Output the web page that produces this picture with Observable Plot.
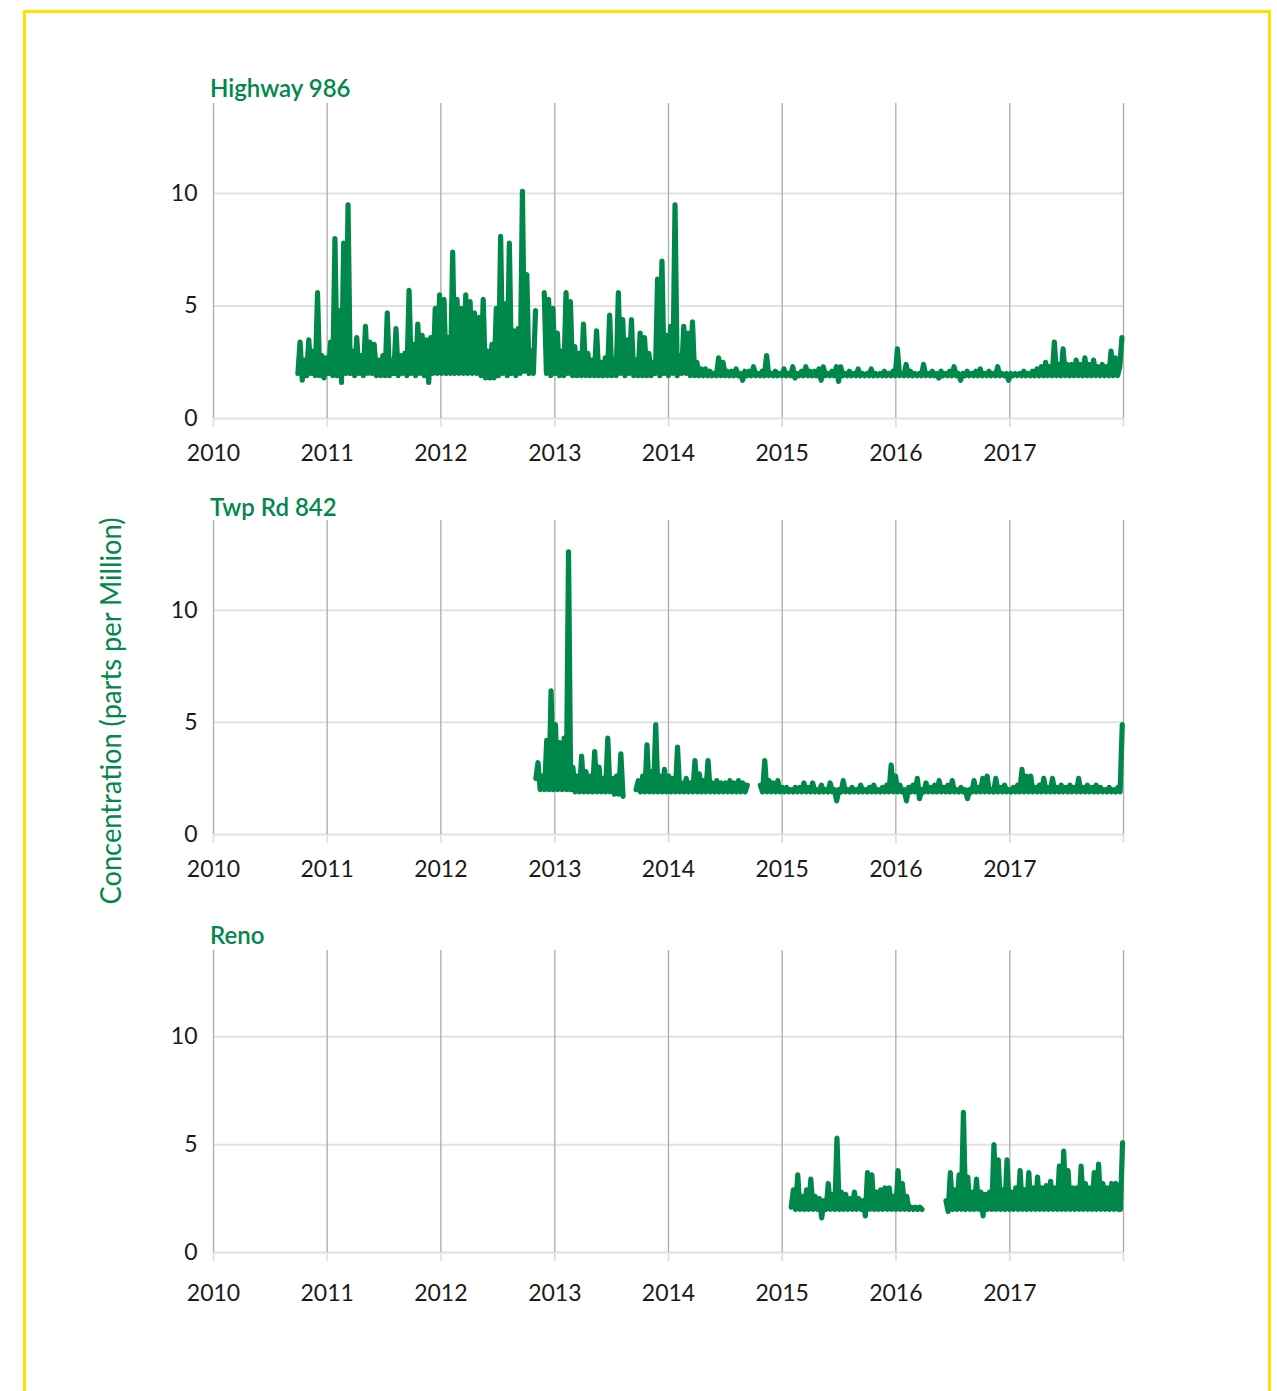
<!DOCTYPE html>
<html>
<head>
<meta charset="utf-8">
<script src="https://cdn.jsdelivr.net/npm/d3@7"></script>
<script src="https://cdn.jsdelivr.net/npm/@observablehq/plot@0.6"></script>
<style>
  html, body { margin: 0; padding: 0; background: #fff; overflow: hidden; }
  #page { position: relative; width: 1277px; height: 1391px; overflow: hidden; background: #fff; }
  #frame { position: absolute; left: 23px; top: 10px; width: 1242px; height: 1430px; border: 3px solid #ffdf00; }
  .panel { position: absolute; left: 0; }
  #overlay { position: absolute; left: 0; top: 0; }
</style>
</head>
<body>
<div id="page"><div id="frame"></div></div>
<script>
// ---------------- data ----------------
const stationNames = ["Highway 986", "Twp Rd 842", "Reno"];
const yAxisTitle = "Concentration (parts per Million)";
const tickYears = [2010, 2011, 2012, 2013, 2014, 2015, 2016, 2017, 2018];
const tickYearLabels = ["2010", "2011", "2012", "2013", "2014", "2015", "2016", "2017", ""];
const yTickValues = [0, 5, 10];
const yTickLabels = ["0", "5", "10"];
const sampleStepDays = 7;

// Highway 986: weekly samples from 2010-09-29 (null = no data)
const highwayStart = "2010-09-29";
const highwayValues = [
  2.0, 3.4, 1.7, 2.6, 1.9, 3.5, 2.0, 3.0, 1.9, 5.6,
  1.9, 2.8, 1.8, 2.7, 2.0, 3.4, 1.9, 8.0, 1.9, 4.8,
  1.6, 7.8, 2.0, 9.5, 2.0, 3.0, 1.9, 3.6, 2.0, 2.8,
  1.9, 4.1, 2.0, 3.4, 2.0, 3.3, 1.9, 2.6, 1.9, 2.8,
  1.9, 4.7, 1.9, 2.6, 2.0, 4.0, 1.9, 2.8, 2.0, 2.9,
  1.9, 5.7, 2.0, 3.3, 1.9, 4.2, 2.0, 3.7, 1.9, 3.5,
  1.6, 3.6, 2.0, 4.9, 2.0, 5.5, 2.0, 5.3, 2.0, 3.6,
  2.0, 7.4, 2.0, 5.3, 2.0, 4.9, 2.0, 5.5, 2.0, 5.2,
  2.0, 4.7, 2.0, 4.5, 1.9, 5.3, 1.8, 3.0, 1.8, 3.3,
  1.8, 4.9, 1.9, 8.1, 2.0, 5.1, 1.9, 7.8, 2.0, 3.9,
  1.9, 4.0, 2.0, 10.1, 2.1, 6.4, 2.0, 3.0, 2.0, 4.8,
  null, null, null, 5.6, 2.0, 5.3, 1.9, 4.9, 2.0, 3.8,
  1.9, 3.0, 1.9, 5.6, 2.0, 5.2, 1.9, 3.2, 1.9, 2.9,
  1.9, 4.2, 1.9, 2.9, 1.9, 2.6, 1.9, 3.9, 1.9, 2.5,
  1.9, 2.7, 1.9, 4.6, 1.9, 2.6, 1.9, 5.6, 2.0, 4.4,
  1.9, 3.5, 2.0, 4.4, 1.9, 2.6, 1.9, 3.8, 1.9, 3.6,
  1.9, 2.9, 1.9, 2.5, 2.0, 6.2, 1.9, 7.0, 2.0, 3.7,
  1.9, 4.1, 2.0, 9.5, 1.9, 2.8, 2.0, 4.1, 2.0, 3.8,
  1.9, 4.3, 1.9, 2.5, 1.9, 2.2, 1.9, 2.2, 1.9, 2.1,
  1.9, 2.0, 1.9, 2.7, 1.9, 2.5, 1.9, 2.1, 1.9, 2.1,
  1.9, 2.2, 1.9, 2.0, 1.7, 2.1, 1.9, 2.1, 1.9, 2.3,
  1.9, 2.0, 1.9, 2.1, 1.9, 2.8, 1.9, 2.0, 1.9, 2.1,
  1.9, 2.0, 1.9, 2.2, 1.9, 2.0, 1.9, 2.3, 1.8, 2.0,
  1.9, 2.1, 1.9, 2.3, 1.9, 2.1, 1.9, 2.1, 1.9, 2.2,
  1.7, 2.3, 1.9, 2.0, 1.9, 2.1, 1.9, 2.3, 1.65, 2.3,
  1.9, 2.0, 1.9, 2.1, 1.9, 2.0, 1.9, 2.2, 1.9, 2.0,
  1.9, 2.0, 1.9, 2.2, 1.9, 2.0, 1.9, 2.0, 1.9, 2.1,
  1.9, 2.0, 1.9, 2.1, 1.9, 3.1, 1.9, 2.0, 1.9, 2.4,
  1.9, 2.1, 1.9, 2.0, 1.9, 2.0, 1.9, 2.4, 1.9, 2.0,
  1.9, 2.1, 1.9, 2.0, 1.8, 2.1, 1.9, 2.0, 1.9, 2.1,
  1.9, 2.3, 1.9, 2.0, 1.7, 2.0, 1.9, 2.1, 1.9, 2.0,
  1.9, 2.1, 1.9, 2.2, 1.9, 2.0, 1.9, 2.1, 1.9, 2.0,
  1.9, 2.3, 1.9, 2.0, 1.9, 2.0, 1.7, 2.0, 1.9, 2.0,
  1.9, 2.0, 1.9, 2.1, 1.9, 2.0, 1.9, 2.1, 1.9, 2.2,
  1.9, 2.3, 1.9, 2.5, 1.9, 2.3, 1.9, 3.4, 1.9, 2.4,
  1.9, 3.1, 1.9, 2.4, 1.9, 2.4, 1.9, 2.6, 1.9, 2.4,
  1.9, 2.7, 1.9, 2.4, 1.9, 2.6, 1.9, 2.3, 1.9, 2.4,
  1.9, 2.3, 1.9, 3.0, 1.9, 2.7, 1.9, 2.3, 3.6
];

// Twp Rd 842: weekly samples from 2012-11-01
const twpStart = "2012-11-01";
const twpValues = [
  2.5, 3.2, 2.0, 2.6, 2.0, 4.2, 2.0, 6.4, 2.0, 4.9,
  2.0, 4.1, 2.0, 4.3, 2.0, 12.6, 2.0, 3.0, 1.9, 2.6,
  1.9, 3.5, 1.9, 2.8, 1.9, 2.6, 1.9, 3.7, 1.9, 3.0,
  1.9, 2.5, 1.9, 4.3, 1.9, 2.5, 1.8, 2.6, 1.8, 3.6,
  1.7, null, null, null, null, null, 2.0, 2.4, 1.9, 2.6,
  1.9, 4.0, 1.9, 2.8, 1.9, 4.9, 1.9, 2.6, 1.9, 2.9,
  1.9, 2.6, 1.9, 2.5, 1.9, 3.9, 1.9, 2.3, 1.9, 2.5,
  1.9, 2.3, 1.9, 3.3, 1.9, 2.7, 1.9, 2.4, 1.9, 3.3,
  1.9, 2.3, 1.9, 2.4, 1.9, 2.3, 1.9, 2.3, 1.9, 2.4,
  1.9, 2.3, 1.9, 2.4, 1.9, 2.3, 1.9, 2.2, null, null,
  null, null, null, 2.2, 1.9, 3.3, 1.9, 2.4, 1.9, 2.3,
  1.9, 2.4, 1.9, 2.1, 1.9, 2.1, 1.9, 2.0, 1.9, 2.1,
  1.9, 2.1, 1.9, 2.3, 1.9, 2.1, 1.9, 2.3, 1.9, 2.0,
  1.9, 2.2, 1.9, 2.0, 1.9, 2.3, 1.9, 2.0, 1.5, 2.0,
  1.9, 2.4, 1.9, 2.0, 1.9, 2.1, 1.9, 2.0, 1.9, 2.2,
  1.9, 2.0, 1.9, 2.1, 1.9, 2.2, 1.9, 2.0, 1.9, 2.1,
  1.9, 2.2, 1.9, 3.1, 1.9, 2.6, 1.9, 2.2, 1.9, 2.0,
  1.5, 2.1, 1.9, 2.2, 1.9, 2.5, 1.6, 2.0, 1.9, 2.3,
  1.9, 2.1, 1.9, 2.2, 1.9, 2.4, 1.9, 2.1, 1.9, 2.2,
  1.9, 2.4, 1.9, 2.0, 1.9, 2.1, 1.9, 2.0, 1.6, 2.0,
  1.9, 2.4, 1.9, 2.1, 1.9, 2.5, 1.9, 2.6, 1.9, 2.0,
  1.9, 2.5, 1.9, 2.1, 1.9, 2.2, 1.9, 2.0, 1.9, 2.1,
  1.9, 2.2, 1.9, 2.9, 1.9, 2.6, 1.9, 2.6, 1.9, 2.1,
  1.9, 2.2, 1.9, 2.5, 1.9, 2.1, 1.9, 2.5, 1.9, 2.1,
  1.9, 2.2, 1.9, 2.1, 1.9, 2.2, 1.9, 2.1, 1.9, 2.5,
  1.9, 2.1, 1.9, 2.2, 1.9, 2.1, 1.9, 2.2, 1.9, 2.1,
  1.9, 2.0, 1.9, 2.1, 1.9, 2.0, 1.9, 2.1, 1.9, 4.9
];

// Reno: weekly samples from 2015-01-30
const renoStart = "2015-01-30";
const renoValues = [
  2.1, 2.9, 2.0, 3.6, 2.0, 2.6, 2.0, 2.9, 2.0, 3.4,
  2.0, 2.6, 2.0, 2.5, 1.6, 2.4, 2.0, 3.2, 2.0, 2.7,
  2.0, 5.3, 2.0, 2.8, 2.0, 2.7, 2.0, 2.5, 2.0, 2.8,
  2.0, 2.5, 2.0, 2.4, 1.7, 3.7, 2.0, 3.6, 2.0, 2.8,
  2.0, 2.9, 2.0, 3.0, 2.0, 3.0, 2.0, 2.6, 2.0, 3.8,
  2.0, 3.2, 2.0, 2.6, 2.0, 2.1, 2.0, 2.1, 2.0, 2.1,
  2.0, null, null, null, null, null, null, null, null, null,
  null, 2.4, 1.9, 3.7, 2.0, 2.9, 2.0, 3.6, 2.0, 6.5,
  2.0, 3.5, 2.0, 2.8, 2.0, 3.4, 2.0, 2.8, 1.7, 2.7,
  2.0, 2.8, 2.0, 5.0, 2.0, 4.3, 2.0, 2.9, 2.0, 4.3,
  2.0, 2.8, 2.0, 3.0, 2.0, 3.8, 2.0, 2.9, 2.0, 3.7,
  2.0, 3.0, 2.0, 3.5, 2.0, 3.0, 2.0, 3.1, 2.0, 3.3,
  2.0, 3.0, 2.0, 4.0, 2.0, 4.7, 2.0, 3.8, 2.0, 3.0,
  2.0, 3.0, 2.0, 4.0, 2.0, 3.2, 2.0, 3.0, 2.0, 3.7,
  2.0, 4.1, 2.0, 3.2, 2.0, 3.0, 2.0, 3.2, 2.0, 3.2,
  2.0, 2.0, 5.1
];

// ---------------- drawing ----------------
const GREEN = "#00874a";
const FONT = "Lato, 'Noto Sans', sans-serif";
const yearDates = tickYears.map(y => new Date(Date.UTC(y, 0, 1)));

function series(start, values) {
  const t0 = new Date(start + "T00:00:00Z");
  return values.map((v, i) => ({ date: d3.utcDay.offset(t0, sampleStepDays * i), value: v == null ? NaN : v }));
}

function panel(values, start, plotTop, plotHeight, labelPad) {
  const mt = 40, mb = 60;
  const chart = Plot.plot({
    width: 1277,
    height: mt + plotHeight + mb,
    marginLeft: 213,
    marginRight: 154,
    marginTop: mt,
    marginBottom: mb,
    style: { fontFamily: FONT, fontSize: "23px", color: "#1a1a1a", background: "transparent", overflow: "visible" },
    x: { type: "utc", domain: [yearDates[0], yearDates[yearDates.length - 1]] },
    y: { domain: [0, 14] },
    marks: [
      Plot.ruleY(yTickValues, { stroke: "#e2e2e2", strokeWidth: 2 }),
      Plot.ruleX(yearDates, { stroke: "#ababab", strokeWidth: 1.3 }),
      Plot.axisX({
        ticks: yearDates, tickSize: 9, tickPadding: labelPad, stroke: "#e2e2e2", strokeWidth: 2,
        fill: "#1a1a1a", label: null,
        tickFormat: d => tickYearLabels[tickYears.indexOf(d.getUTCFullYear())]
      }),
      Plot.axisY({
        ticks: yTickValues, tickSize: 0, tickPadding: 16, fill: "#1a1a1a", label: null,
        tickFormat: d => yTickLabels[yTickValues.indexOf(d)]
      }),
      Plot.lineY(series(start, values), {
        x: "date", y: "value", stroke: GREEN, strokeWidth: 5.2,
        strokeLinecap: "round", strokeLinejoin: "round"
      })
    ]
  });
  chart.classList.add("panel");
  chart.style.top = (plotTop - mt) + "px";
  document.getElementById("page").appendChild(chart);
}

panel(highwayValues, highwayStart, 103, 315, 17);
panel(twpValues, twpStart, 519.5, 314, 17);
panel(renoValues, renoStart, 950, 302, 23);

// titles and y-axis title
const NS = "http://www.w3.org/2000/svg";
const ov = document.createElementNS(NS, "svg");
ov.setAttribute("id", "overlay");
ov.setAttribute("width", 1277);
ov.setAttribute("height", 1391);
const titleBaselines = [97, 516, 944];
stationNames.forEach((name, i) => {
  const t = document.createElementNS(NS, "text");
  t.setAttribute("x", 210);
  t.setAttribute("y", titleBaselines[i]);
  t.setAttribute("fill", GREEN);
  t.setAttribute("font-family", FONT);
  t.setAttribute("font-size", 24);
  t.setAttribute("font-weight", 600);
  t.textContent = name;
  ov.appendChild(t);
});
const yt = document.createElementNS(NS, "text");
yt.setAttribute("transform", "translate(121,711) rotate(-90)");
yt.setAttribute("text-anchor", "middle");
yt.setAttribute("fill", GREEN);
yt.setAttribute("font-family", FONT);
yt.setAttribute("font-size", 28);
yt.setAttribute("textLength", 387);
yt.setAttribute("lengthAdjust", "spacingAndGlyphs");
yt.textContent = yAxisTitle;
ov.appendChild(yt);
document.getElementById("page").appendChild(ov);
</script>
</body>
</html>
